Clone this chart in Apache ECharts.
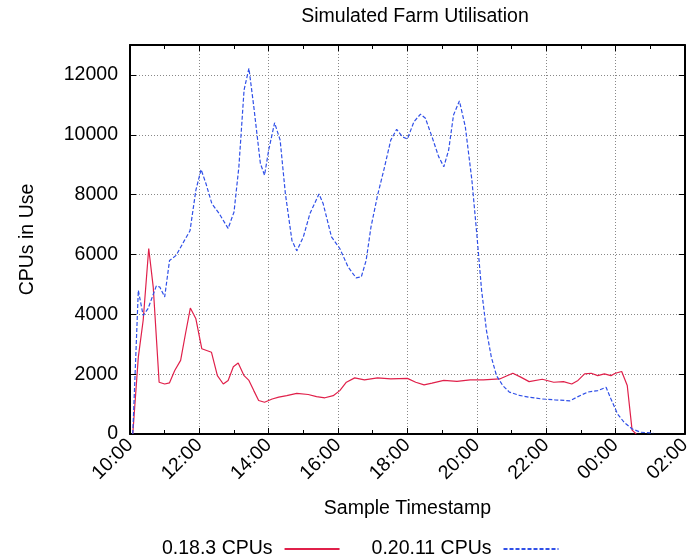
<!DOCTYPE html>
<html>
<head>
    <meta charset="utf-8">
    <title>Simulated Farm Utilisation</title>
    <script src="https://cdn.jsdelivr.net/npm/echarts@6.0.0/dist/echarts.min.js"></script>
</head>
<body style="margin:0">
    <div id="main" style="width: 694px;height:560px;"></div>

    <script type="text/javascript">
        // hours since 10:00 for each sample
        var oldTimes = [0.08, 0.24, 0.38, 0.54, 0.67, 0.84, 1.0, 1.14, 1.29, 1.46, 1.6, 1.74, 1.9, 2.07, 2.35, 2.52,
            2.69, 2.83, 2.98, 3.12, 3.29, 3.43, 3.57, 3.71, 3.88, 4.1, 4.29, 4.52, 4.81, 5.14, 5.38, 5.62,
            5.86, 6.05, 6.24, 6.48, 6.76, 7.14, 7.52, 8.0, 8.24, 8.48, 8.71, 9.05, 9.43, 9.81, 10.19, 10.66,
            11.04, 11.27, 11.51, 11.89, 12.22, 12.5, 12.74, 12.92, 13.11, 13.3, 13.49, 13.68, 13.87, 14.0,
            14.18, 14.34, 14.48, 14.6];
        var oldCpus = [0, 2570, 3800, 6200, 4910, 1730, 1670, 1710, 2120, 2460, 3350, 4210, 3850, 2850, 2730, 1950,
            1670, 1790, 2250, 2370, 1950, 1790, 1450, 1120, 1060, 1170, 1230, 1280, 1360, 1320, 1250, 1210,
            1280, 1450, 1730, 1875, 1810, 1875, 1840, 1860, 1730, 1640, 1700, 1790, 1760, 1810, 1810, 1840,
            2030, 1900, 1750, 1830, 1730, 1750, 1670, 1790, 2010, 2030, 1950, 2010, 1950, 2030,
            2090, 1620, 130, 0];

        var newTimes = [0.08, 0.24, 0.38, 0.52, 0.76, 0.86, 1.0, 1.14, 1.33, 1.57, 1.73, 1.9, 2.05, 2.19, 2.36, 2.57,
            2.83, 3.0, 3.14, 3.29, 3.43, 3.57, 3.76, 3.88, 4.0, 4.17, 4.33, 4.48, 4.67, 4.81, 5.0, 5.19,
            5.45, 5.57, 5.81, 6.05, 6.29, 6.52, 6.67, 6.81, 6.95, 7.14, 7.33, 7.52, 7.69, 7.86, 8.0, 8.19,
            8.38, 8.52, 8.71, 8.9, 9.05, 9.19, 9.33, 9.5, 9.67, 9.86, 10.0, 10.14, 10.28, 10.42, 10.57,
            10.75, 10.94, 11.23, 11.5, 11.89, 12.26, 12.69, 12.92, 13.2, 13.49, 13.73, 13.87, 14.06, 14.25,
            14.48, 14.72, 15.09];
        var newCpus = [0, 4800, 3960, 4190, 4950, 4910, 4580, 5800, 5970, 6470, 6790, 8150, 8840, 8370, 7700, 7370,
            6870, 7420, 8930, 11500, 12220, 10940, 9040, 8650, 9490, 10400, 9820, 8040, 6470, 6120, 6590, 7370,
            8020, 7700, 6590, 6200, 5580, 5220, 5250, 5800, 6920, 7980, 8870, 9820, 10180, 9930, 9860, 10440,
            10690, 10550, 9930, 9270, 8930, 9490, 10660, 11130, 10270, 8480, 6700, 4800, 3460, 2570, 1950,
            1620, 1400, 1290, 1230, 1170, 1140, 1110, 1250, 1400, 1450, 1560, 1170, 670, 390,
            170, 60, 30];

        var seriesNames = ['0.18.3 CPUs', '0.20.11 CPUs'];

        function pairs(t, v) {
            return t.map(function (h, i) { return [h, v[i]]; });
        }
        function clock(h) {
            var hh = (10 + Math.round(h)) % 24;
            return (hh < 10 ? '0' : '') + hh + ':00';
        }

        var font = 'Liberation Sans, Arial, sans-serif';
        var fs = 19.5;
        var frame = { show: true, onZero: false, lineStyle: { color: '#000', width: 2 } };
        var dotted = { show: true, lineStyle: { color: '#888', width: 1, type: [1, 2] } };

        var myChart = echarts.init(document.getElementById('main'));
        var option = {
            animation: false,
            backgroundColor: '#fff',
            title: {
                text: 'Simulated Farm Utilisation',
                left: 410, top: 2, textAlign: 'center',
                textStyle: { fontFamily: font, fontSize: fs, fontWeight: 'normal', color: '#000' }
            },
            legend: {
                data: seriesNames,
                left: 157, top: 534,
                align: 'right',
                itemWidth: 55, itemHeight: 14, itemGap: 31,
                itemStyle: { opacity: 0 },
                textStyle: { fontFamily: font, fontSize: fs, color: '#000', padding: [0, 7, 0, 0] }
            },
            grid: { left: 130, right: 4, top: 45, bottom: 126, containLabel: false },
            xAxis: [{
                type: 'value', min: 0, max: 16, interval: 2,
                name: 'Sample Timestamp', nameLocation: 'middle', nameGap: 65,
                nameTextStyle: { fontFamily: font, fontSize: fs, color: '#000' },
                axisLine: frame,
                axisTick: { show: true, inside: true, length: 6, lineStyle: { color: '#000' } },
                minorTick: { show: true, splitNumber: 2, length: 4, lineStyle: { color: '#000' } },
                splitLine: dotted,
                axisLabel: { rotate: 45, margin: 8, fontFamily: font, fontSize: fs, color: '#000', formatter: clock }
            }, {
                type: 'value', min: 0, max: 16, interval: 2, position: 'top',
                axisLine: frame,
                axisTick: { show: true, inside: true, length: 6, lineStyle: { color: '#000' } },
                minorTick: { show: true, splitNumber: 2, length: 4, lineStyle: { color: '#000' } },
                splitLine: { show: false }, axisLabel: { show: false }
            }],
            yAxis: [{
                type: 'value', min: 0, max: 13000, interval: 2000,
                name: 'CPUs in Use', nameLocation: 'middle', nameGap: 92,
                nameTextStyle: { fontFamily: font, fontSize: fs, color: '#000' },
                axisLine: frame,
                axisTick: { show: true, inside: true, length: 6, lineStyle: { color: '#000' } },
                splitLine: dotted,
                axisLabel: {
                    showMaxLabel: false, margin: 12, fontFamily: font, fontSize: fs, color: '#000',
                    formatter: function (v) { return String(v); }
                }
            }, {
                type: 'value', min: 0, max: 13000, interval: 2000, position: 'right',
                axisLine: frame,
                axisTick: { show: true, inside: true, length: 6, lineStyle: { color: '#000' } },
                splitLine: { show: false }, axisLabel: { show: false }
            }],
            series: [{
                name: seriesNames[0], type: 'line', symbol: 'none',
                data: pairs(oldTimes, oldCpus),
                itemStyle: { color: '#e0204a' },
                lineStyle: { color: '#e0204a', width: 1.2 }
            }, {
                name: seriesNames[1], type: 'line', symbol: 'none',
                data: pairs(newTimes, newCpus),
                itemStyle: { color: '#3050e8' },
                lineStyle: { color: '#3050e8', width: 1.2, type: [4, 2] }
            }]
        };
        myChart.setOption(option);
    </script>
</body>
</html>
